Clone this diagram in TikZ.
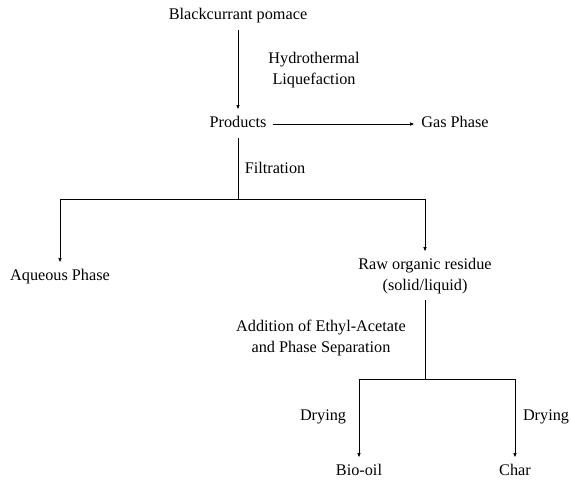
\documentclass[tikz,border=0pt]{standalone}
\usepackage{fontspec}
\setmainfont{Liberation Serif}
\usetikzlibrary{arrows.meta,positioning}
\tikzset{
  stage/.style={inner sep=6.5bp, font=\fontsize{16.3}{20.5}\selectfont, align=center},
  oneline/.style={stage, text height=11.5bp, text depth=3.8bp},
  step label/.style={inner sep=1bp, font=\fontsize{16.3}{20.5}\selectfont, align=center},
  flow/.style={-{Latex[length=4.5pt,width=3.5pt]}, line width=0.9bp}
}
\begin{document}
\begin{tikzpicture}[x=1bp,y=-1bp]
\useasboundingbox (0,0) rectangle (571,484);
% stages
\node[oneline] (pomace) at (238,16) {Blackcurrant pomace};
\node[oneline] (products) at (238,124) {Products};
\node[oneline] (gas) at (455,124) {Gas Phase};
\node[oneline] (aqueous) at (60,277) {Aqueous Phase};
\node[stage] (residue) at (425,276) {Raw organic residue\\(solid/liquid)};
\node[oneline] (biooil) at (359,472) {Bio-oil};
\node[oneline] (char) at (515,472) {Char};
% junctions
\coordinate (split1) at (238,199);
\coordinate (split2) at (425,379);
% connectors
\draw[flow] (pomace) -- (products);
\draw[flow] (products) -- (gas);
\draw[line width=0.9bp] (products) -- (split1);
\draw[flow] (split1) -| (aqueous);
\draw[flow] (split1) -| (residue);
\draw[line width=0.9bp] (residue) -- (split2);
\draw[flow] (split2) -| (biooil);
\draw[flow] (split2) -| (char);
% process labels
\node[step label] (htl) at (314,70) {Hydrothermal\\Liquefaction};
\node[step label] (filt) at (275,168) {Filtration};
\node[step label] (sep) at (321,338) {Addition of Ethyl-Acetate\\and Phase Separation};
\node[step label] (dry1) at (323,417) {Drying};
\node[step label] (dry2) at (546,417) {Drying};
\end{tikzpicture}
\end{document}
